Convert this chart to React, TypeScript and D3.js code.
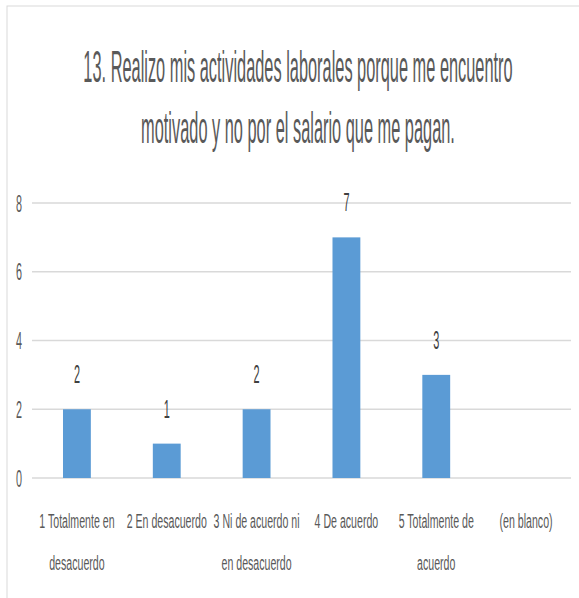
import React from 'react';
import * as d3 from 'd3';

const titleLines = [
  '13. Realizo mis actividades laborales porque me encuentro',
  'motivado y no por el salario que me pagan.',
];
const categories = [
  '1 Totalmente en desacuerdo',
  '2 En desacuerdo',
  '3 Ni de acuerdo ni en desacuerdo',
  '4 De acuerdo',
  '5 Totalmente de acuerdo',
  '(en blanco)',
];
// label lines as they wrap in the picture
const categoryLines = [
  ['1 Totalmente en', 'desacuerdo'],
  ['2 En desacuerdo'],
  ['3 Ni de acuerdo ni', 'en desacuerdo'],
  ['4 De acuerdo'],
  ['5 Totalmente de', 'acuerdo'],
  ['(en blanco)'],
];
const values: (number | null)[] = [2, 1, 2, 7, 3, null];
const yTicks = [0, 2, 4, 6, 8];

const W = 579;
const H = 598;
const FONT = '"Liberation Sans", Arial, sans-serif';
const TEXT = '#595959';

const App: React.FC = () => {
  const x = d3.scaleBand<string>()
    .domain(categories)
    .range([32, 571])
    .paddingInner(0.69)
    .paddingOuter(0.345);
  const y = d3.scaleLinear().domain([0, 8]).range([478, 203]);

  return (
    <svg
      width={W}
      height={H}
      style={{ position: 'absolute', left: 0, top: 0, background: '#fff' }}
    >
      <rect x={7} y={6} width={W} height={H} fill="#fff" stroke="#d9d9d9" strokeWidth={1} />

      {/* title */}
      {titleLines.map((line, i) => (
        <text
          key={i}
          transform={`translate(298, ${82 + i * 61}) scale(0.372, 1)`}
          textAnchor="middle"
          fontFamily={FONT}
          fontSize={44}
          fill={TEXT}
        >
          {line}
        </text>
      ))}

      {/* gridlines + y labels */}
      {yTicks.map((t) => (
        <g key={t}>
          <line x1={32} x2={571} y1={y(t)} y2={y(t)} stroke="#d9d9d9" strokeWidth={1.5} />
          <text
            transform={`translate(19, ${y(t) + 8.5}) scale(0.45, 1)`}
            textAnchor="middle"
            fontFamily={FONT}
            fontSize={24}
            fill={TEXT}
          >
            {t}
          </text>
        </g>
      ))}

      {/* bars */}
      {categories.map((c, i) => {
        const v = values[i];
        if (v == null) return null;
        const bx = x(c)!;
        return (
          <g key={c}>
            <rect x={bx} y={y(v)} width={x.bandwidth()} height={y(0) - y(v)} fill="#5B9BD5" />
            <text
              transform={`translate(${bx + x.bandwidth() / 2}, ${y(v) - 26}) scale(0.42, 1)`}
              textAnchor="middle"
              fontFamily={FONT}
              fontSize={26}
              fill="#404040"
            >
              {v}
            </text>
          </g>
        );
      })}

      {/* category labels */}
      {categories.map((c, i) => (
        <g key={c}>
          {categoryLines[i].map((ln, j) => (
            <text
              key={j}
              transform={`translate(${x(c)! + x.bandwidth() / 2}, ${528 + j * 42}) scale(0.53, 1)`}
              textAnchor="middle"
              fontFamily={FONT}
              fontSize={20}
              fill={TEXT}
            >
              {ln}
            </text>
          ))}
        </g>
      ))}
    </svg>
  );
};

export default App;
